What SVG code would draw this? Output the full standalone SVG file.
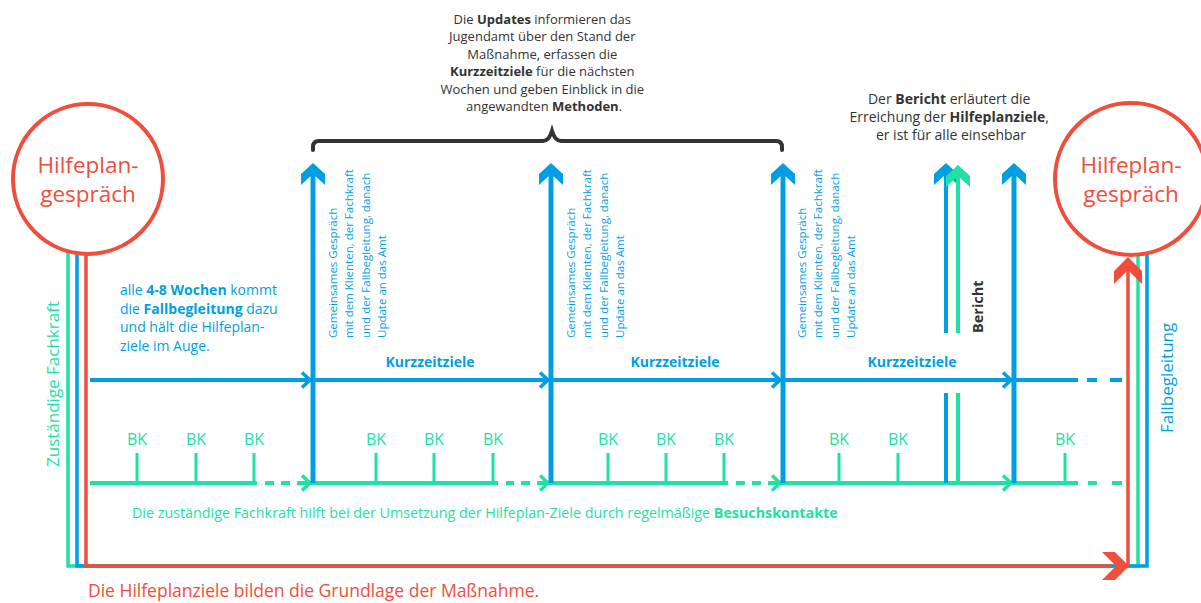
<svg xmlns="http://www.w3.org/2000/svg" width="1201" height="603" viewBox="0 0 1201 603">
<style>
text{font-family:"Open Sans","Liberation Sans",sans-serif}
.b{font-weight:700}
.dark{fill:#333}
.blue{fill:#009fe3}
.green{fill:#1fe0a5}
.red{fill:#f04e3c}
.ls{fill:none;stroke-linecap:butt;stroke-linejoin:miter}
.bl{stroke:#009fe3}
.gr{stroke:#1fe0a5}
.rd{stroke:#f04e3c}
.vt{font-size:11.5px;fill:#009fe3}
.bk{font-size:16px;fill:#1fe0a5;text-anchor:middle}
.kz{font-size:14px;font-weight:700;fill:#009fe3;text-anchor:middle}
</style>
<defs>
<polygon id="upA" points="0,0 12,11 12,22 0,11 -12,22 -12,11"/>
<polyline id="chev" points="-8,-7.5 0,0 -8,7.5" fill="none" stroke-width="3.5"/>
</defs>

<g id="frame">
  <path class="ls gr" stroke-width="3.5" d="M68,252 V566 H1138 V254"/>
  <path class="ls bl" stroke-width="3.5" d="M77,254 V566 H1147 V253"/>
  <path class="ls rd" stroke-width="3.5" d="M86,255 V566 H1112"/>
  <path class="ls rd" stroke-width="3.5" d="M1128,566 V268"/>
  <polygon fill="#f04e3c" points="1102,552 1115,552 1129,566 1115,580 1102,580 1116,566"/>
  <polygon fill="#f04e3c" points="1128,257 1142,271 1142,284 1128,270 1114,284 1114,271"/>
</g>

<g id="hilfeplan-left">
  <circle cx="88" cy="179" r="75" fill="#fff" stroke="#f04e3c" stroke-width="4"/>
  <text class="red" x="88" y="173" font-size="22.5" text-anchor="middle">Hilfeplan-</text>
  <text class="red" x="88" y="202" font-size="22.5" text-anchor="middle">gespräch</text>
</g>
<g id="hilfeplan-right">
  <circle cx="1131" cy="179" r="76" fill="#fff" stroke="#f04e3c" stroke-width="4"/>
  <text class="red" x="1131" y="173" font-size="22.5" text-anchor="middle">Hilfeplan-</text>
  <text class="red" x="1131" y="202" font-size="22.5" text-anchor="middle">gespräch</text>
</g>

<g id="connectors">
  <!-- Kurzzeitziele line (blue) -->
  <path class="ls bl" stroke-width="4" d="M90,380 H1078 M1087,380 H1097 M1110,380 H1122"/>
  <use href="#chev" class="bl" x="310" y="380"/>
  <use href="#chev" class="bl" x="548" y="380"/>
  <use href="#chev" class="bl" x="780" y="380"/>
  <use href="#chev" class="bl" x="1011" y="380"/>
  <!-- Besuchskontakte line (green) -->
  <path class="ls gr" stroke-width="4" d="M90,483 H257 M265,483 H274 M281,483 H290 M297,483 H498 M506,483 H514 M521,483 H530 M537,483 H728 M736,483 H745 M752,483 H761 M768,483 H1078 M1088,483 H1097 M1112,483 H1122"/>
  <use href="#chev" class="gr" x="310" y="483"/>
  <use href="#chev" class="gr" x="548" y="483"/>
  <use href="#chev" class="gr" x="780" y="483"/>
  <use href="#chev" class="gr" x="1011" y="483"/>
  <!-- BK ticks -->
  <path class="ls gr" stroke-width="3" d="M137,453 V483 M196,453 V483 M254,453 V483 M376,453 V483 M434,453 V483 M493,453 V483 M608,453 V483 M666,453 V483 M724,453 V483 M839,453 V483 M898,453 V483 M1065,453 V483"/>
  <!-- blue verticals -->
  <path class="ls bl" stroke-width="5" d="M313,170 V483 M551,170 V483 M783,170 V483 M1014,170 V483"/>
  <use href="#upA" fill="#009fe3" x="313" y="163"/>
  <use href="#upA" fill="#009fe3" x="551" y="163"/>
  <use href="#upA" fill="#009fe3" x="783" y="163"/>
  <use href="#upA" fill="#009fe3" x="1014" y="163"/>
  <!-- Bericht lines -->
  <path class="ls bl" stroke-width="4" d="M946,170 V333 M946,393 V483"/>
  <use href="#upA" fill="#009fe3" x="946" y="163"/>
  <path class="ls gr" stroke-width="4" d="M958,172 V333 M958,393 V483"/>
  <use href="#upA" fill="#1fe0a5" x="958" y="165"/>
  <!-- brace -->
  <path fill="none" stroke="#333" stroke-width="4" stroke-linecap="round" d="M313,150 V147 Q313,141 319,141 H543 Q549,141 552,131 Q555,141 561,141 H776 Q782,141 782,147 V150"/>
</g>

<g id="labels">
  <text class="dark" font-size="13" text-anchor="middle">
    <tspan x="544" y="24">Die <tspan class="b">Updates</tspan> informieren das</tspan>
    <tspan x="544" y="41.4">Jugendamt über den Stand der</tspan>
    <tspan x="544" y="58.8">Maßnahme, erfassen die</tspan>
    <tspan x="544" y="76.2"><tspan class="b">Kurzzeitziele</tspan> für die nächsten</tspan>
    <tspan x="544" y="93.6">Wochen und geben Einblick in die</tspan>
    <tspan x="544" y="111">angewandten <tspan class="b">Methoden</tspan>.</tspan>
  </text>
  <text class="dark" font-size="14" text-anchor="middle">
    <tspan x="951" y="104">Der <tspan class="b">Bericht</tspan> erläutert die</tspan>
    <tspan x="951" y="122">Erreichung der <tspan class="b">Hilfeplanziele</tspan>,</tspan>
    <tspan x="951" y="140">er ist für alle einsehbar</tspan>
  </text>
  <text class="dark b" font-size="14.5" transform="translate(983,333) rotate(-90)">Bericht</text>
  <text class="blue" font-size="14">
    <tspan x="120" y="295">alle <tspan class="b">4-8 Wochen</tspan> kommt</tspan>
    <tspan x="120" y="313.5">die <tspan class="b">Fallbegleitung</tspan> dazu</tspan>
    <tspan x="120" y="332">und hält die Hilfeplan-</tspan>
    <tspan x="120" y="350.5">ziele im Auge.</tspan>
  </text>
  <text class="vt" transform="translate(337,338) rotate(-90)"><tspan x="0" y="0">Gemeinsames Gespräch</tspan><tspan x="0" dy="16.3">mit dem Klienten, der Fachkraft</tspan><tspan x="0" dy="16.3">und der Fallbegleitung, danach</tspan><tspan x="0" dy="16.3">Update an das Amt</tspan></text>
  <text class="vt" transform="translate(575,338) rotate(-90)"><tspan x="0" y="0">Gemeinsames Gespräch</tspan><tspan x="0" dy="16.3">mit dem Klienten, der Fachkraft</tspan><tspan x="0" dy="16.3">und der Fallbegleitung, danach</tspan><tspan x="0" dy="16.3">Update an das Amt</tspan></text>
  <text class="vt" transform="translate(806,338) rotate(-90)"><tspan x="0" y="0">Gemeinsames Gespräch</tspan><tspan x="0" dy="16.3">mit dem Klienten, der Fachkraft</tspan><tspan x="0" dy="16.3">und der Fallbegleitung, danach</tspan><tspan x="0" dy="16.3">Update an das Amt</tspan></text>
  <text class="kz" x="430" y="367">Kurzzeitziele</text>
  <text class="kz" x="675" y="367">Kurzzeitziele</text>
  <text class="kz" x="912" y="367">Kurzzeitziele</text>
  <text class="bk" x="137" y="445">BK</text>
  <text class="bk" x="196" y="445">BK</text>
  <text class="bk" x="254" y="445">BK</text>
  <text class="bk" x="376" y="445">BK</text>
  <text class="bk" x="434" y="445">BK</text>
  <text class="bk" x="493" y="445">BK</text>
  <text class="bk" x="608" y="445">BK</text>
  <text class="bk" x="666" y="445">BK</text>
  <text class="bk" x="724" y="445">BK</text>
  <text class="bk" x="839" y="445">BK</text>
  <text class="bk" x="898" y="445">BK</text>
  <text class="bk" x="1065" y="445">BK</text>
  <text class="green" font-size="14.3" x="132" y="518">Die zuständige Fachkraft hilft bei der Umsetzung der Hilfeplan-Ziele durch regelmäßige <tspan class="b">Besuchskontakte</tspan></text>
  <text class="red" font-size="17.5" x="88" y="597">Die Hilfeplanziele bilden die Grundlage der Maßnahme.</text>
  <text class="green" font-size="17" transform="translate(59,467) rotate(-90)">Zuständige Fachkraft</text>
  <text class="blue" font-size="17" transform="translate(1173,433) rotate(-90)">Fallbegleitung</text>
</g>
</svg>
